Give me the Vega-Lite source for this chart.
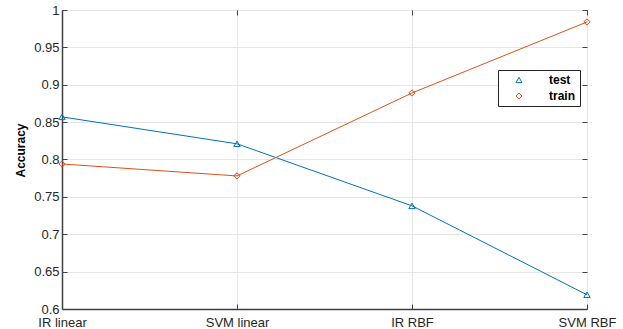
{
  "$schema": "https://vega.github.io/schema/vega-lite/v6.json",
  "width": 525,
  "height": 299,
  "autosize": {"type": "none"},
  "padding": {"left": 62, "top": 10, "right": 36, "bottom": 20},
  "config": {
    "font": "Liberation Sans",
    "view": {"stroke": "#404040", "strokeWidth": 1},
    "axis": {
      "labelFont": "Liberation Sans",
      "labelFontSize": 13,
      "labelColor": "#262626",
      "domainColor": "#404040",
      "domainWidth": 1.5,
      "tickColor": "#404040",
      "tickWidth": 1,
      "gridColor": "#e6e6e6",
      "gridWidth": 1
    },
    "legend": {
      "title": null,
      "orient": "none",
      "legendX": 436,
      "legendY": 60,
      "padding": 4,
      "rowPadding": 4,
      "strokeColor": "#262626",
      "fillColor": "#ffffff",
      "labelFontSize": 12,
      "labelFontWeight": "bold",
      "labelColor": "#000000",
      "labelFont": "Liberation Sans",
      "symbolOffset": 11,
      "labelOffset": 24,
      "symbolSize": 36,
      "symbolStrokeWidth": 1
    }
  },
  "data": {
    "values": [
      {"model": "IR linear", "set": "test", "acc": 0.857},
      {"model": "SVM linear", "set": "test", "acc": 0.821},
      {"model": "IR RBF", "set": "test", "acc": 0.738},
      {"model": "SVM RBF", "set": "test", "acc": 0.619},
      {"model": "IR linear", "set": "train", "acc": 0.794},
      {"model": "SVM linear", "set": "train", "acc": 0.778},
      {"model": "IR RBF", "set": "train", "acc": 0.889},
      {"model": "SVM RBF", "set": "train", "acc": 0.984}
    ]
  },
  "layer": [
    {
      "mark": {"type": "line", "strokeWidth": 1},
      "encoding": {
        "x": {
          "field": "model", "type": "ordinal",
          "sort": ["IR linear", "SVM linear", "IR RBF", "SVM RBF"],
          "scale": {"type": "point", "padding": 0},
          "axis": {"orient": "bottom", "title": null, "labelAngle": 0, "grid": true, "tickSize": -5, "labelPadding": 12, "labelOverlap": false, "labelBound": false, "labelFlush": false}
        },
        "y": {
          "field": "acc", "type": "quantitative",
          "scale": {"domain": [0.6, 1], "nice": false, "zero": false},
          "axis": {"orient": "left", "title": "Accuracy", "titleFontSize": 12, "titleFontWeight": "bold", "titleColor": "#000000", "titlePadding": 6, "titleY": 140, "values": [0.6, 0.65, 0.7, 0.75, 0.8, 0.85, 0.9, 0.95, 1], "format": ".2~f", "grid": true, "tickSize": -5, "labelPadding": 8, "labelFlush": false}
        },
        "color": {
          "field": "set", "type": "nominal",
          "scale": {"domain": ["test", "train"], "range": ["#0072BD", "#D95319"]}
        }
      }
    },
    {
      "mark": {"type": "point", "filled": false, "size": 40, "strokeWidth": 1, "opacity": 1},
      "encoding": {
        "x": {
          "field": "model", "type": "ordinal",
          "sort": ["IR linear", "SVM linear", "IR RBF", "SVM RBF"],
          "scale": {"type": "point", "padding": 0},
          "axis": {"orient": "top", "title": null, "labels": false, "domain": false, "grid": false, "tickSize": -5}
        },
        "y": {
          "field": "acc", "type": "quantitative",
          "scale": {"domain": [0.6, 1], "nice": false, "zero": false},
          "axis": {"orient": "right", "title": null, "labels": false, "domain": false, "grid": false, "tickSize": -5, "values": [0.6, 0.65, 0.7, 0.75, 0.8, 0.85, 0.9, 0.95, 1]}
        },
        "color": {
          "field": "set", "type": "nominal",
          "scale": {"domain": ["test", "train"], "range": ["#0072BD", "#D95319"]},
          "legend": {
            "encode": {
              "symbols": {
                "shape": {"value": {"expr": "datum.value === 'test' ? 'M-5,0L5,0M0,-1.1L1.1,0.9L-1.1,0.9Z' : 'M-5,0L5,0M0,-1.25L0.9,0L0,1.25L-0.9,0Z'"}},
                "size": {"value": 36},
                "strokeWidth": {"value": 1}
              }
            }
          }
        },
        "shape": {
          "field": "set", "type": "nominal",
          "scale": {"domain": ["test", "train"], "range": ["triangle-up", "diamond"]},
          "legend": null
        }
      }
    }
  ],
  "resolve": {"axis": {"x": "independent", "y": "independent"}}
}
